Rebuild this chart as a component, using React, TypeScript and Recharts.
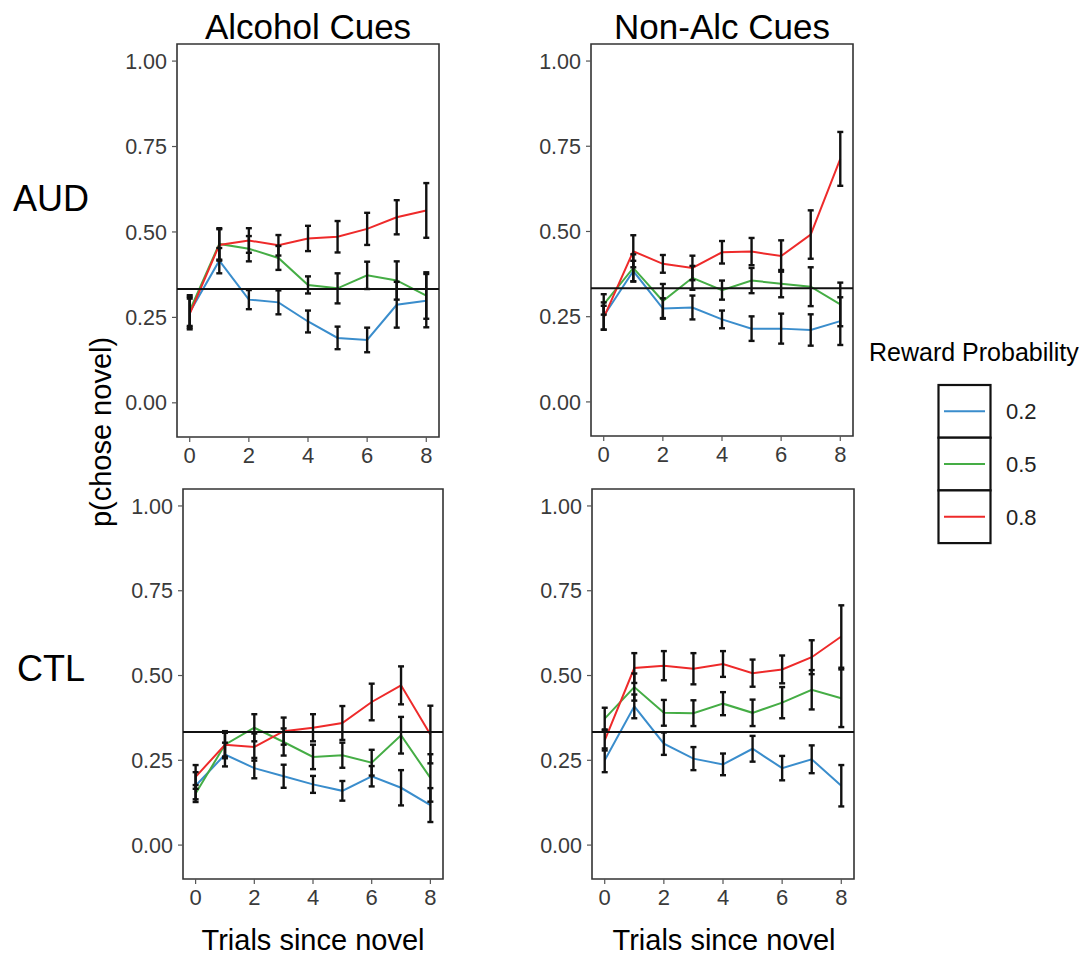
import React from 'react';
import { LineChart, Line, XAxis, YAxis, ErrorBar, ReferenceLine, ReferenceArea } from 'recharts';

// ---- data ----
const TRIALS = [0, 1, 2, 3, 4, 5, 6, 7, 8];
const X_TICKS = [0, 2, 4, 6, 8];
const Y_TICKS = [0, 0.25, 0.5, 0.75, 1];
const CHANCE = 1 / 3;
const SERIES_KEYS = ['p02', 'p05', 'p08'];
const SERIES_NAMES = ['0.2', '0.5', '0.8'];
const COL_TITLES = ['Alcohol Cues', 'Non-Alc Cues'];
const ROW_TITLES = ['AUD', 'CTL'];
const X_TITLE = 'Trials since novel';
const Y_TITLE = 'p(chose novel)';
const LEGEND_TITLE = 'Reward Probability';

// AUD - Alcohol cues
const audAlc02 = [0.265, 0.416, 0.302, 0.294, 0.238, 0.19, 0.184, 0.287, 0.299];
const audAlc02se = [0.045, 0.037, 0.028, 0.035, 0.032, 0.033, 0.036, 0.067, 0.078];
const audAlc05 = [0.27, 0.465, 0.451, 0.424, 0.345, 0.335, 0.373, 0.358, 0.314];
const audAlc05se = [0.045, 0.046, 0.037, 0.035, 0.025, 0.044, 0.04, 0.056, 0.068];
const audAlc08 = [0.26, 0.462, 0.475, 0.461, 0.481, 0.486, 0.509, 0.543, 0.563];
const audAlc08se = [0.045, 0.046, 0.036, 0.03, 0.037, 0.046, 0.047, 0.05, 0.08];

// AUD - Non-alcohol cues
const audNon02 = [0.252, 0.384, 0.274, 0.277, 0.242, 0.215, 0.215, 0.211, 0.237];
const audNon02se = [0.04, 0.03, 0.03, 0.035, 0.026, 0.036, 0.044, 0.046, 0.07];
const audNon05 = [0.286, 0.393, 0.296, 0.364, 0.328, 0.356, 0.347, 0.338, 0.286];
const audNon05se = [0.03, 0.04, 0.05, 0.035, 0.028, 0.037, 0.04, 0.057, 0.064];
const audNon08 = [0.247, 0.442, 0.405, 0.393, 0.439, 0.441, 0.428, 0.491, 0.713];
const audNon08se = [0.035, 0.047, 0.026, 0.036, 0.033, 0.04, 0.046, 0.071, 0.079];

// CTL - Alcohol cues
const ctlAlc02 = [0.175, 0.267, 0.227, 0.203, 0.179, 0.16, 0.203, 0.169, 0.118];
const ctlAlc02se = [0.04, 0.035, 0.03, 0.034, 0.025, 0.029, 0.03, 0.052, 0.05];
const ctlAlc05 = [0.152, 0.296, 0.346, 0.304, 0.26, 0.265, 0.243, 0.324, 0.198];
const ctlAlc05se = [0.025, 0.035, 0.04, 0.04, 0.036, 0.037, 0.038, 0.054, 0.07];
const ctlAlc08 = [0.201, 0.296, 0.289, 0.336, 0.346, 0.36, 0.422, 0.471, 0.326];
const ctlAlc08se = [0.035, 0.04, 0.04, 0.04, 0.04, 0.05, 0.054, 0.056, 0.085];

// CTL - Non-alcohol cues
const ctlNon02 = [0.25, 0.409, 0.299, 0.255, 0.238, 0.284, 0.227, 0.253, 0.175];
const ctlNon02se = [0.035, 0.035, 0.033, 0.034, 0.032, 0.038, 0.036, 0.041, 0.061];
const ctlNon05 = [0.373, 0.466, 0.39, 0.389, 0.417, 0.39, 0.42, 0.458, 0.433];
const ctlNon05se = [0.032, 0.04, 0.038, 0.038, 0.034, 0.039, 0.046, 0.058, 0.085];
const ctlNon08 = [0.309, 0.522, 0.529, 0.52, 0.534, 0.507, 0.518, 0.554, 0.615];
const ctlNon08se = [0.03, 0.044, 0.043, 0.046, 0.038, 0.04, 0.041, 0.05, 0.092];

// ---- styles ----
const COLORS = ['#3a8dcc', '#45ad45', '#ee2a2a'];
const FONT = '"Liberation Sans", Arial, Helvetica, sans-serif';
const X_DOMAIN: [number, number] = [-0.43, 8.43];
const Y_DOMAIN: [number, number] = [-0.1, 1.05];

function buildRows(m: number[][], s: number[][]) {
  return TRIALS.map((t, i) => {
    const row: any = { trial: t };
    SERIES_KEYS.forEach((k, j) => {
      row[k] = m[j][i];
      row[k + 'se'] = s[j][i];
    });
    return row;
  });
}

const panels = [
  { data: buildRows([audAlc02, audAlc05, audAlc08], [audAlc02se, audAlc05se, audAlc08se]), box: [177, 44, 262, 393] },
  { data: buildRows([audNon02, audNon05, audNon08], [audNon02se, audNon05se, audNon08se]), box: [591, 44, 262, 392] },
  { data: buildRows([ctlAlc02, ctlAlc05, ctlAlc08], [ctlAlc02se, ctlAlc05se, ctlAlc08se]), box: [183, 489, 260, 390] },
  { data: buildRows([ctlNon02, ctlNon05, ctlNon08], [ctlNon02se, ctlNon05se, ctlNon08se]), box: [592, 489, 262, 390] },
];

function Panel({ data, box }: { data: any[]; box: number[] }) {
  const [bx, by, bw, bh] = box;
  const YW = 80, XH = 44, MT = 10, MR = 12;
  return (
    <div style={{ position: 'absolute', left: bx - YW, top: by - MT }}>
      <LineChart
        width={bw + YW + MR}
        height={bh + MT + XH}
        data={data}
        margin={{ top: MT, right: MR, left: 0, bottom: 0 }}
      >
        <XAxis
          type="number"
          dataKey="trial"
          domain={X_DOMAIN}
          ticks={X_TICKS}
          allowDataOverflow
          interval={0}
          axisLine={false}
          tickLine={{ stroke: '#555', strokeWidth: 1.2 }}
          tickSize={5}
          tickMargin={5}
          height={XH}
          tick={{ fill: '#3a3a3a', fontSize: 22, fontFamily: FONT }}
        />
        <YAxis
          type="number"
          domain={Y_DOMAIN}
          ticks={Y_TICKS}
          allowDataOverflow
          interval={0}
          axisLine={false}
          tickLine={{ stroke: '#555', strokeWidth: 1.2 }}
          tickSize={5}
          tickMargin={5}
          width={YW}
          tickFormatter={(v: number) => v.toFixed(2)}
          tick={{ fill: '#3a3a3a', fontSize: 21.5, fontFamily: FONT }}
        />
        <ReferenceArea
          x1={X_DOMAIN[0]}
          x2={X_DOMAIN[1]}
          y1={Y_DOMAIN[0]}
          y2={Y_DOMAIN[1]}
          fill="none"
          stroke="#333"
          strokeWidth={1.6}
          ifOverflow="visible"
        />
        {SERIES_KEYS.map((k, j) => (
          <Line
            key={k}
            type="linear"
            dataKey={k}
            stroke={COLORS[j]}
            strokeWidth={2}
            dot={false}
            activeDot={false}
            isAnimationActive={false}
          />
        ))}
        {SERIES_KEYS.map((k) => (
          <Line
            key={k + 'eb'}
            type="linear"
            dataKey={k}
            stroke="none"
            dot={false}
            activeDot={false}
            isAnimationActive={false}
          >
            <ErrorBar dataKey={k + 'se'} width={3} strokeWidth={2.4} stroke="#111" direction="y" isAnimationActive={false} />
          </Line>
        ))}
        <ReferenceLine y={CHANCE} stroke="#111" strokeWidth={2} ifOverflow="visible" />
      </LineChart>
    </div>
  );
}

export default function App() {
  return (
    <div style={{ position: 'absolute', left: 0, top: 0, width: 1085, height: 955, background: '#fff', fontFamily: FONT }}>
      {panels.map((p, i) => (
        <Panel key={i} data={p.data} box={p.box} />
      ))}
      <svg width={1085} height={955} style={{ position: 'absolute', left: 0, top: 0, pointerEvents: 'none' }} fontFamily={FONT}>
        <text x={308} y={39} fontSize={35} textAnchor="middle" fill="#000">{COL_TITLES[0]}</text>
        <text x={722} y={39} fontSize={35} textAnchor="middle" fill="#000">{COL_TITLES[1]}</text>
        <text x={51} y={211} fontSize={36} textAnchor="middle" fill="#000">{ROW_TITLES[0]}</text>
        <text x={51} y={681} fontSize={36} textAnchor="middle" fill="#000">{ROW_TITLES[1]}</text>
        <text x={111} y={432} fontSize={29} textAnchor="middle" fill="#000" transform="rotate(-90 111 432)">{Y_TITLE}</text>
        <text x={313} y={950} fontSize={29} textAnchor="middle" fill="#000">{X_TITLE}</text>
        <text x={724} y={950} fontSize={29} textAnchor="middle" fill="#000">{X_TITLE}</text>
        <text x={869} y={361} fontSize={25} fill="#000">{LEGEND_TITLE}</text>
        {SERIES_NAMES.map((n, j) => {
          const top = 385 + j * 52.7;
          return (
            <g key={n}>
              <rect x={938.5} y={top} width={52} height={52.7} fill="#fff" stroke="#111" strokeWidth={2.2} />
              <line x1={944} x2={985} y1={top + 26.3} y2={top + 26.3} stroke={COLORS[j]} strokeWidth={2} />
              <text x={1006} y={top + 26.3 + 8} fontSize={22} fill="#222">{n}</text>
            </g>
          );
        })}
      </svg>
    </div>
  );
}
